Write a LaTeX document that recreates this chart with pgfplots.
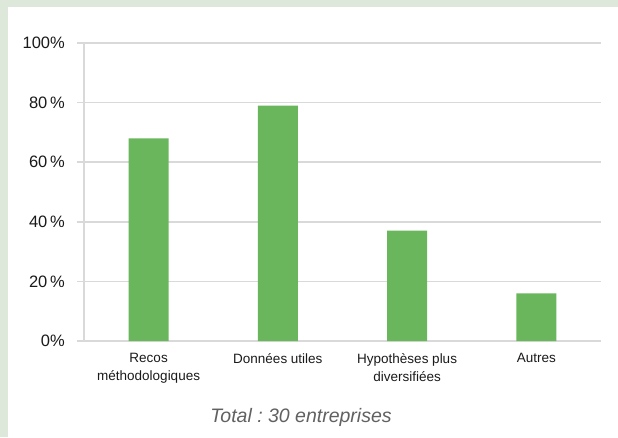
\documentclass[border=0pt]{standalone}
\usepackage{pgfplots}
\pgfplotsset{compat=1.18}
\usepackage{fontspec}
\setmainfont{Liberation Sans}
\frenchspacing
\definecolor{bggreen}{HTML}{DDE8DB}
\definecolor{bargreen}{HTML}{6AB65C}
\definecolor{gridgray}{HTML}{D9D9D9}
\definecolor{txt}{HTML}{1A1A1A}
\begin{document}
\begin{tikzpicture}[x=1pt,y=1pt]
\fill[bggreen] (0,0) rectangle (618,437);
\fill[white] (7.5,0) rectangle (618,429.5);
\useasboundingbox (0,0) rectangle (618,437);
\begin{axis}[
  at={(84pt,96pt)}, anchor=south west,
  scale only axis, width=517pt, height=298pt,
  xmin=-0.5, xmax=3.5, ymin=0, ymax=100,
  axis x line=bottom, axis y line=left,
  axis line style={draw=gridgray, line width=1.6pt, -},
  ytick={0,20,40,60,80,100},
  yticklabels={0\%,20\,\%,40\,\%,60\,\%,80\,\%,100\%},
  ymajorgrids, grid style={draw=gridgray, line width=1.6pt},
  tick align=outside, major tick length=7pt,
  ytick style={draw=gridgray, line width=1.6pt},
  xtick={0,1,2,3}, xtick style={draw=none},
  xticklabels={{Recos\\méthodologiques},{Données utiles},{Hypothèses plus\\diversifiées},{Autres}},
  yticklabel style={font=\fontsize{16.5}{18}\selectfont, text=txt, anchor=east, inner sep=0pt, xshift=-12pt},
  xticklabel style={font=\fontsize{13.5}{18}\selectfont, text=txt, align=center, anchor=north, inner sep=0pt, yshift=-5pt},
  clip=false,
]
\addplot[ybar, bar width=40pt, fill=bargreen, draw=none] coordinates {(0,68) (1,79) (2,37) (3,16)};
\end{axis}
\node[font=\fontsize{19.5}{21}\selectfont\itshape, text=black!62] at (301,20) {Total : 30 entreprises};
\end{tikzpicture}
\end{document}
